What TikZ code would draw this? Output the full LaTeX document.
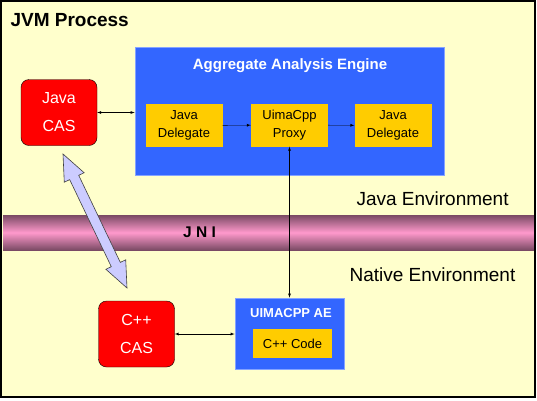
\documentclass[tikz,border=0pt]{standalone}
\usepackage{fontspec}
\setmainfont{Liberation Sans}
\usetikzlibrary{positioning}
\definecolor{jvmbg}{HTML}{FFFFCC}
\definecolor{aeblue}{HTML}{3366FF}
\definecolor{casred}{HTML}{FF0000}
\definecolor{delorange}{HTML}{FFCC00}
\definecolor{jnipink}{HTML}{FF99CC}
\definecolor{jnidark}{HTML}{7A4A64}
\definecolor{arrowlav}{HTML}{CCCCFF}

\begin{document}
\begin{tikzpicture}[x=1pt, y=-1pt, >=latex,
    cas/.style={draw=black, fill=casred, rounded corners=8pt, text=white, align=center,
        minimum width=76pt, minimum height=66pt, font=\fontsize{16}{28}\selectfont},
    delegate/.style={fill=delorange, align=center, minimum width=77pt, minimum height=43pt,
        font=\fontsize{13}{18}\selectfont},
    aebox/.style={fill=aeblue, draw=aeblue!60!white, line width=0.8pt},
    envlabel/.style={anchor=west, font=\fontsize{19}{22}\selectfont}]
    \useasboundingbox (0,0) rectangle (537,400);
    \fill[jvmbg] (1,1) rectangle (535,397);
    % JNI bar
    \shade[top color=jnidark, bottom color=jnidark, middle color=jnipink] (3,215) rectangle (535,250);
    \node[font=\bfseries\fontsize{15.5}{18}\selectfont] (jni) at (199.5,232.5) {J N I};
    % big double arrow between the two CAS
    \begin{scope}[shift={(63,154)}, rotate=-64.47]
        \draw[fill=arrowlav, draw=black!75, line width=0.6pt]
            (0,0) -- (26,11) -- (26,5) -- (122.5,5) -- (122.5,11) -- (148.5,0)
            -- (122.5,-11) -- (122.5,-5) -- (26,-5) -- (26,-11) -- cycle;
    \end{scope}
    \node[anchor=west, font=\bfseries\fontsize{19}{22}\selectfont] (jvm) at (7,20.5) {JVM Process};
    % java side
    \node[aebox, minimum width=309pt, minimum height=128pt] (agg) at (289.5,111) {};
    \node[text=white, font=\bfseries\fontsize{15}{18}\selectfont] (agg_title) at (290,66) {Aggregate Analysis Engine};
    \node[cas] (java_cas) at (59,112.5) {Java\\CAS};
    \node[delegate] (del_0) at (184,125.5) {Java\\Delegate};
    \node[delegate] (proxy) at (289.5,125) {UimaCpp\\Proxy};
    \node[delegate] (del_1) at (393,125.5) {Java\\Delegate};
    \node[envlabel] (java_env) at (353,199) {Java Environment};
    % native side
    \node[envlabel] (native_env) at (346,275) {Native Environment};
    \node[cas] (cpp_cas) at (136.5,334) {C++\\CAS};
    \node[aebox, minimum width=109pt, minimum height=71pt] (cpp_ae) at (289.5,333.5) {};
    \node[text=white, font=\bfseries\fontsize{13}{16}\selectfont] (cpp_ae_title) at (291,313) {UIMACPP AE};
    \node[fill=delorange, minimum width=79pt, minimum height=29pt, font=\fontsize{13}{16}\selectfont] (cpp_code) at (292.5,343.5) {C++ Code};
    \draw[<->] (java_cas.east) -- (java_cas.east -| agg.west);
    \draw[->] (del_0) -- (proxy);
    \draw[->] (proxy) -- (del_1);
    \draw[<->] (proxy.south) -- (proxy.south |- cpp_ae.north);
    \draw[<->] (cpp_cas.east) -- (cpp_cas.east -| cpp_ae.west);
    \draw[line width=2.5pt] (1,1) rectangle (535,397);
\end{tikzpicture}
\end{document}
